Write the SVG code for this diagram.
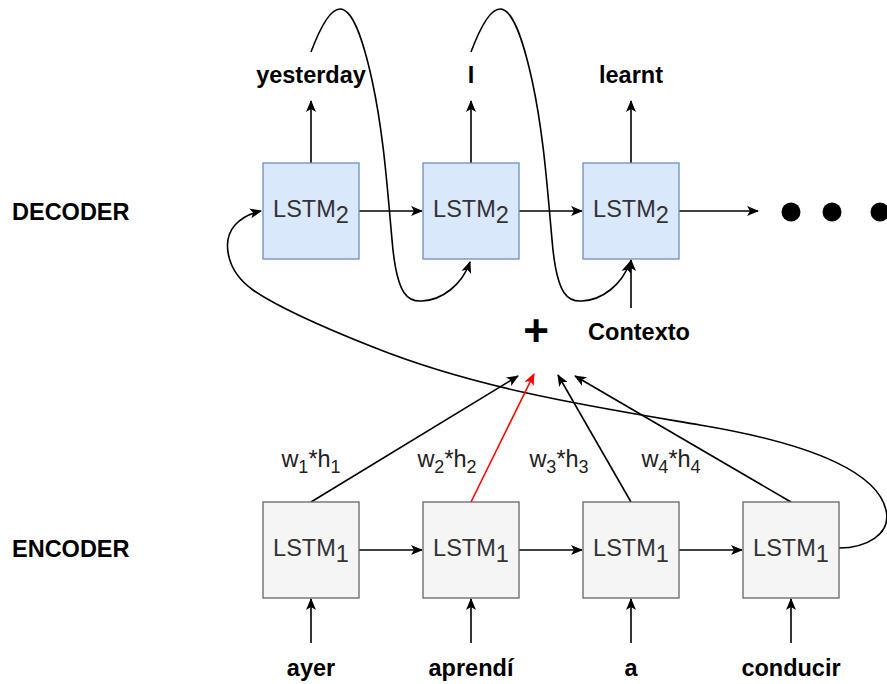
<svg xmlns="http://www.w3.org/2000/svg" width="887" height="684" viewBox="0 0 887 684">
<defs>
<style>
.dec{fill:#dae8fc;stroke:#6c8ebf;stroke-width:1.3}
.enc{fill:#f5f5f5;stroke:#666666;stroke-width:1.3}
.lstm{font-family:"Liberation Sans",Arial,sans-serif;font-size:23.5px;fill:#333333;text-anchor:middle}
.lbl{font-family:"Liberation Sans",Arial,sans-serif;font-size:23.5px;font-weight:bold;fill:#000;text-anchor:middle}
.w{font-family:"Liberation Sans",Arial,sans-serif;font-size:23.5px;fill:#222;text-anchor:middle}
.e{fill:none;stroke:#000;stroke-width:1.6}
.r{fill:none;stroke:#ff0000;stroke-width:1.6}
</style>
<marker id="ah" viewBox="0 0 12 10" refX="11" refY="5" markerWidth="12" markerHeight="10" markerUnits="userSpaceOnUse" orient="auto">
<path d="M0,0 L12,5 L0,10 L3,5 z" fill="#000"/>
</marker>
<marker id="ahr" viewBox="0 0 12 10" refX="11" refY="5" markerWidth="12" markerHeight="10" markerUnits="userSpaceOnUse" orient="auto">
<path d="M0,0 L12,5 L0,10 L3,5 z" fill="#ff0000"/>
</marker>
</defs>
<rect width="887" height="684" fill="#ffffff"/>

<g id="labels">
<text x="12" y="220" class="lbl" style="text-anchor:start">DECODER</text>
<text x="12" y="557" class="lbl" style="text-anchor:start">ENCODER</text>
</g>

<g id="connectors">
<!-- decoder outputs -->
<line class="e" x1="311" y1="163" x2="311" y2="101" marker-end="url(#ah)"/>
<line class="e" x1="471" y1="163" x2="471" y2="101" marker-end="url(#ah)"/>
<line class="e" x1="631" y1="163" x2="631" y2="101" marker-end="url(#ah)"/>
<!-- decoder horizontals -->
<line class="e" x1="359" y1="211" x2="422" y2="211" marker-end="url(#ah)"/>
<line class="e" x1="519" y1="211" x2="582" y2="211" marker-end="url(#ah)"/>
<line class="e" x1="679" y1="211" x2="758" y2="211" marker-end="url(#ah)"/>
<!-- contexto -->
<line class="e" x1="631" y1="308" x2="631" y2="260" marker-end="url(#ah)"/>
<!-- feedback loops -->
<path class="e" d="M311,52 C320,28 330,9 340,9 C352,9 362,35 372,80 C385,140 388,200 393,250 C398,295 408,302 422,301 C442,300 462,285 470,262" marker-end="url(#ah)"/>
<path class="e" d="M471,52 C480,28 490,9 500,9 C512,9 522,35 532,80 C545,140 548,200 553,250 C558,295 568,302 582,301 C602,300 622,285 630,262" marker-end="url(#ah)"/>
<!-- encoder to decoder long curve -->
<path class="e" d="M839,548 C865,548 892,535 886,510 C878,475 820,445 700,425 C600,408 480,390 373,347 C320,326 275,305 253,290 C225,270 222,240 235,225 C242,217 252,213 261,211" marker-end="url(#ah)"/>
<!-- weighted arrows -->
<line class="e" x1="311" y1="502" x2="518" y2="376" marker-end="url(#ah)"/>
<line class="r" x1="471" y1="502" x2="534" y2="374" marker-end="url(#ahr)"/>
<line class="e" x1="631" y1="502" x2="558" y2="375" marker-end="url(#ah)"/>
<line class="e" x1="791" y1="502" x2="575" y2="376" marker-end="url(#ah)"/>
<!-- encoder horizontals -->
<line class="e" x1="359" y1="550" x2="422" y2="550" marker-end="url(#ah)"/>
<line class="e" x1="519" y1="550" x2="582" y2="550" marker-end="url(#ah)"/>
<line class="e" x1="679" y1="550" x2="742" y2="550" marker-end="url(#ah)"/>
<!-- inputs -->
<line class="e" x1="311" y1="643" x2="311" y2="599" marker-end="url(#ah)"/>
<line class="e" x1="471" y1="643" x2="471" y2="599" marker-end="url(#ah)"/>
<line class="e" x1="631" y1="643" x2="631" y2="599" marker-end="url(#ah)"/>
<line class="e" x1="791" y1="643" x2="791" y2="599" marker-end="url(#ah)"/>
</g>

<g id="dec1"><rect class="dec" x="263" y="163" width="96" height="96"/><text class="lstm" x="311" y="217">LSTM<tspan dy="6">2</tspan></text></g>
<g id="dec2"><rect class="dec" x="423" y="163" width="96" height="96"/><text class="lstm" x="471" y="217">LSTM<tspan dy="6">2</tspan></text></g>
<g id="dec3"><rect class="dec" x="583" y="163" width="96" height="96"/><text class="lstm" x="631" y="217">LSTM<tspan dy="6">2</tspan></text></g>

<g id="enc1"><rect class="enc" x="263" y="502" width="96" height="96"/><text class="lstm" x="311" y="556">LSTM<tspan dy="6">1</tspan></text></g>
<g id="enc2"><rect class="enc" x="423" y="502" width="96" height="96"/><text class="lstm" x="471" y="556">LSTM<tspan dy="6">1</tspan></text></g>
<g id="enc3"><rect class="enc" x="583" y="502" width="96" height="96"/><text class="lstm" x="631" y="556">LSTM<tspan dy="6">1</tspan></text></g>
<g id="enc4"><rect class="enc" x="743" y="502" width="96" height="96"/><text class="lstm" x="791" y="556">LSTM<tspan dy="6">1</tspan></text></g>

<g id="outputs">
<text class="lbl" x="311" y="83">yesterday</text>
<text class="lbl" x="471" y="83">I</text>
<text class="lbl" x="631" y="83">learnt</text>
</g>

<g id="inputs">
<text class="lbl" x="311" y="676">ayer</text>
<text class="lbl" x="471" y="676">aprendí</text>
<text class="lbl" x="631" y="676">a</text>
<text class="lbl" x="791" y="676">conducir</text>
</g>

<g id="plus"><text class="lbl" x="536" y="346" style="font-size:44px">+</text></g>
<g id="contexto"><text class="lbl" x="639" y="340">Contexto</text></g>

<g id="weights">
<text class="w" x="311" y="467">w<tspan dy="6" font-size="18">1</tspan><tspan dy="-6">*h</tspan><tspan dy="6" font-size="18">1</tspan></text>
<text class="w" x="447" y="467">w<tspan dy="6" font-size="18">2</tspan><tspan dy="-6">*h</tspan><tspan dy="6" font-size="18">2</tspan></text>
<text class="w" x="559" y="467">w<tspan dy="6" font-size="18">3</tspan><tspan dy="-6">*h</tspan><tspan dy="6" font-size="18">3</tspan></text>
<text class="w" x="671" y="467">w<tspan dy="6" font-size="18">4</tspan><tspan dy="-6">*h</tspan><tspan dy="6" font-size="18">4</tspan></text>
</g>

<g id="dots">
<circle cx="791" cy="212" r="9.5" fill="#000"/>
<circle cx="832" cy="212" r="9.5" fill="#000"/>
<circle cx="880" cy="212" r="9.5" fill="#000"/>
</g>
</svg>
